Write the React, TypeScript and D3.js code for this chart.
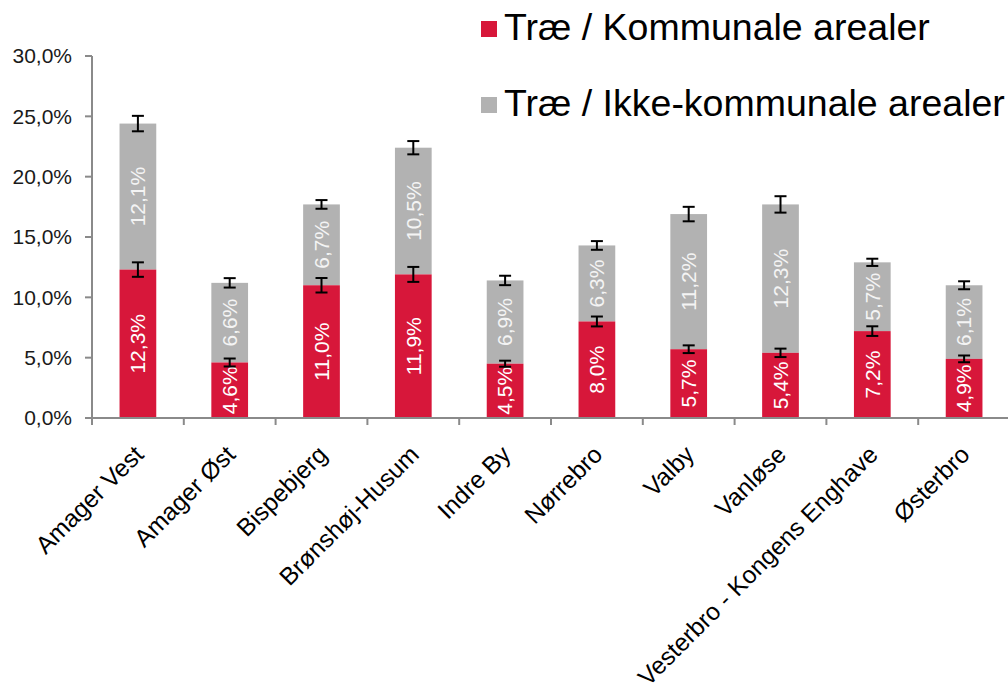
import React from 'react';
import * as d3 from 'd3';

const categories = [
  'Amager Vest', 'Amager Øst', 'Bispebjerg', 'Brønshøj-Husum', 'Indre By',
  'Nørrebro', 'Valby', 'Vanløse', 'Vesterbro - Kongens Enghave', 'Østerbro',
];
const kommunale = [12.3, 4.6, 11.0, 11.9, 4.5, 8.0, 5.7, 5.4, 7.2, 4.9];
const ikkeKommunale = [12.1, 6.6, 6.7, 10.5, 6.9, 6.3, 11.2, 12.3, 5.7, 6.1];
// fejlmargin (±) for hvert segment
const errKommunale = [0.6, 0.33, 0.6, 0.62, 0.25, 0.41, 0.32, 0.35, 0.4, 0.28];
const errTotal = [0.64, 0.39, 0.36, 0.55, 0.39, 0.36, 0.6, 0.68, 0.3, 0.33];
const yTicks = [0, 5, 10, 15, 20, 25, 30];
const seriesNames = ['Træ / Kommunale arealer', 'Træ / Ikke-kommunale arealer'];

const RED = '#d7173a';
const GREY = '#b2b2b2';
const AXIS = '#8a8a8a';
const FONT = '"Liberation Sans", Arial, sans-serif';

const fmt = (v: number) => v.toFixed(1).replace('.', ',') + '%';

const App = () => {
  const width = 1008;
  const height = 699;

  const x = d3.scaleBand<string>()
    .domain(categories)
    .range([92, 1010])
    .paddingInner(0.6)
    .paddingOuter(0.3);
  const step = x.step();
  const bw = x.bandwidth();

  const y = d3.scaleLinear().domain([0, 30]).range([418, 56]);

  const tickXs = d3.range(categories.length + 1).map(i => 92 + i * step);

  return (
    <svg width={width} height={height} style={{ position: 'absolute', left: 0, top: 0, fontFamily: FONT }}>
      {/* søjler */}
      {categories.map((c, i) => {
        const cx = (x(c) as number) + bw / 2;
        const k = kommunale[i];
        const tot = k + ikkeKommunale[i];
        return (
          <g key={c}>
            <rect x={x(c)} y={y(tot)} width={bw} height={y(k) - y(tot)} fill={GREY} />
            <rect x={x(c)} y={y(k)} width={bw} height={y(0) - y(k)} fill={RED} />
            <text transform={`translate(${cx},${(y(0) + y(k)) / 2}) rotate(-90)`} textAnchor="middle"
              dy="0.35em" fontSize={21} fill="#ffffff">{fmt(k)}</text>
            <text transform={`translate(${cx},${(y(k) + y(tot)) / 2}) rotate(-90)`} textAnchor="middle"
              dy="0.35em" fontSize={21} fill="#f4f4f4">{fmt(ikkeKommunale[i])}</text>
          </g>
        );
      })}

      {/* fejlstænger */}
      {categories.map((c, i) => {
        const cx = (x(c) as number) + bw / 2;
        const k = kommunale[i];
        const tot = k + ikkeKommunale[i];
        const bars = [[k, errKommunale[i]], [tot, errTotal[i]]];
        return (
          <g key={'e' + c} stroke="#000" strokeWidth={2}>
            {bars.map(([v, e], j) => (
              <g key={j}>
                <line x1={cx} x2={cx} y1={y(v - e)} y2={y(v + e)} />
                <line x1={cx - 6} x2={cx + 6} y1={y(v - e)} y2={y(v - e)} />
                <line x1={cx - 6} x2={cx + 6} y1={y(v + e)} y2={y(v + e)} />
              </g>
            ))}
          </g>
        );
      })}

      {/* y-akse */}
      <line x1={92} x2={92} y1={y(30)} y2={y(0) + 7} stroke={AXIS} strokeWidth={2} />
      {yTicks.map(t => (
        <g key={t}>
          <line x1={85} x2={92} y1={y(t)} y2={y(t)} stroke={AXIS} strokeWidth={2} />
          <text x={72} y={y(t)} dy="0.35em" textAnchor="end" fontSize={21} fill="#1a1a1a">{fmt(t)}</text>
        </g>
      ))}

      {/* x-akse */}
      <line x1={92} x2={1010} y1={y(0)} y2={y(0)} stroke={AXIS} strokeWidth={2} />
      {tickXs.map((tx, i) => (
        <line key={i} x1={tx} x2={tx} y1={y(0)} y2={y(0) + 7} stroke={AXIS} strokeWidth={2} />
      ))}
      {categories.map(c => {
        const cx = (x(c) as number) + bw / 2;
        return (
          <text key={'l' + c} transform={`translate(${cx + 1},${y(0) + 32}) rotate(-45)`}
            textAnchor="end" dy="0.35em" fontSize={24.5} fill="#000">{c}</text>
        );
      })}

      {/* forklaring */}
      {seriesNames.map((s, i) => (
        <g key={s} transform={`translate(481,${21 + i * 76})`}>
          <rect x={0} y={0} width={16} height={16} fill={i === 0 ? RED : GREY} />
          <text x={23} y={19} fontSize={37.5} fill="#000">{s}</text>
        </g>
      ))}
    </svg>
  );
};

export default App;
